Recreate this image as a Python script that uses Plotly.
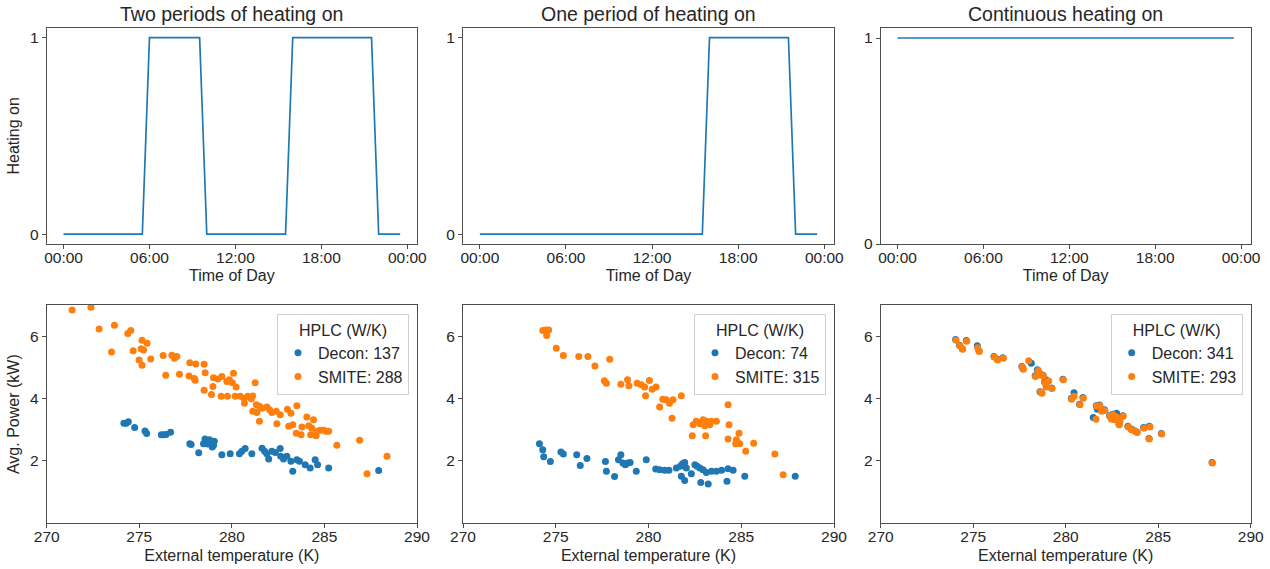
import plotly.graph_objects as go
import pandas as pd

# ---------------- data ----------------
time_of_day = pd.date_range("2020-01-01 00:00", periods=48, freq="30min")

heating_two_periods = [0, 0, 0, 0, 0, 0, 0, 0, 0, 0, 0, 0,
                       1, 1, 1, 1, 1, 1, 1, 1,
                       0, 0, 0, 0, 0, 0, 0, 0, 0, 0, 0, 0,
                       1, 1, 1, 1, 1, 1, 1, 1, 1, 1, 1, 1,
                       0, 0, 0, 0]
heating_one_period = [0, 0, 0, 0, 0, 0, 0, 0, 0, 0, 0, 0,
                      0, 0, 0, 0, 0, 0, 0, 0,
                      0, 0, 0, 0, 0, 0, 0, 0, 0, 0, 0, 0,
                      1, 1, 1, 1, 1, 1, 1, 1, 1, 1, 1, 1,
                      0, 0, 0, 0]
heating_continuous = [1, 1, 1, 1, 1, 1, 1, 1, 1, 1, 1, 1,
                      1, 1, 1, 1, 1, 1, 1, 1,
                      1, 1, 1, 1, 1, 1, 1, 1, 1, 1, 1, 1,
                      1, 1, 1, 1, 1, 1, 1, 1, 1, 1, 1, 1,
                      1, 1, 1, 1]

panel_titles = ["Two periods of heating on", "One period of heating on", "Continuous heating on"]
decon_hplc = [137, 74, 341]
smite_hplc = [288, 315, 293]

# Panel 1 (two periods)
p1_decon_temp = [274.17, 274.29, 274.41, 274.75, 275.31, 275.40, 276.19, 276.34, 276.45, 276.69,
                 277.73, 277.80, 278.21, 278.47, 278.55, 278.60, 278.69, 278.79, 278.86, 278.94,
                 279.01, 279.05, 279.46, 279.91, 280.41, 280.54, 280.72, 281.08, 281.63, 281.77,
                 281.89, 281.99, 282.16, 282.35, 282.61, 282.64, 282.79, 282.97, 283.19, 283.29,
                 283.51, 283.65, 283.96, 284.23, 284.50, 284.63, 285.23, 287.93]
p1_decon_power = [3.21, 3.21, 3.26, 3.07, 2.96, 2.88, 2.84, 2.84, 2.85, 2.92,
                  2.55, 2.53, 2.26, 2.55, 2.70, 2.62, 2.54, 2.68, 2.61, 2.45,
                  2.50, 2.63, 2.20, 2.23, 2.23, 2.31, 2.40, 2.23, 2.41, 2.31,
                  2.23, 2.06, 2.31, 2.27, 2.40, 2.15, 2.06, 2.15, 1.99, 1.67,
                  2.04, 1.99, 1.88, 1.77, 2.04, 1.88, 1.77, 1.69]
p1_smite_temp = [271.37, 272.39, 272.83, 273.66, 274.38, 274.54, 273.50, 274.67, 275.15, 275.42,
                 275.10, 275.23, 274.99, 275.15, 275.62, 276.29, 276.43, 276.76, 276.90, 277.03,
                 277.17, 277.73, 278.05, 278.50, 277.69, 277.97, 278.02, 278.56, 278.50, 278.90,
                 278.98, 279.01, 279.24, 279.46, 279.73, 279.87, 280.09, 280.03, 280.23, 279.42,
                 279.76, 280.18, 280.45, 280.66, 280.86, 281.05, 281.13, 281.26, 280.68, 281.32,
                 281.49, 281.63, 281.89, 282.04, 282.16, 282.40, 282.61, 281.13, 281.35, 281.49,
                 282.43, 283.00, 283.19, 283.51, 283.29, 283.07, 284.05, 283.79, 284.15, 284.32,
                 284.41, 284.59, 284.77, 284.95, 285.09, 285.23, 284.26, 284.55, 283.74, 285.67,
                 286.90, 287.30, 288.38, 283.48]
p1_smite_power = [6.84, 6.93, 6.23, 6.35, 6.09, 6.18, 5.49, 5.53, 5.87, 5.77,
                  5.60, 5.56, 5.24, 5.07, 5.27, 5.38, 4.75, 5.39, 5.29, 5.35,
                  4.78, 5.15, 5.11, 5.10, 4.72, 4.64, 4.59, 4.83, 4.27, 4.13,
                  4.39, 4.67, 4.63, 4.71, 4.55, 4.60, 4.81, 4.51, 4.37, 4.07,
                  4.07, 4.07, 4.07, 4.00, 4.07, 3.99, 4.08, 4.51, 3.85, 3.80,
                  3.75, 3.69, 3.73, 3.64, 3.55, 3.59, 3.48, 3.59, 3.55, 3.27,
                  3.19, 3.66, 3.53, 3.77, 3.16, 3.11, 3.41, 3.09, 3.13, 3.05,
                  3.32, 2.95, 2.98, 2.98, 2.95, 2.95, 2.84, 2.81, 2.84, 2.50,
                  2.66, 1.59, 2.15, 2.89]

# Panel 2 (one period)
p2_decon_temp = [274.12, 274.30, 274.35, 274.71, 275.28, 275.41, 276.13, 276.32, 276.68, 277.68,
                 277.73, 278.17, 278.38, 278.51, 278.62, 278.75, 278.89, 279.01, 279.34, 279.88,
                 280.39, 280.60, 280.87, 281.10, 281.50, 281.71, 281.83, 281.95, 282.04, 281.77,
                 281.95, 282.31, 282.50, 282.62, 282.77, 282.94, 283.12, 283.39, 283.66, 283.94,
                 284.29, 284.56, 282.82, 283.22, 284.23, 285.19, 287.91]
p2_decon_power = [2.55, 2.36, 2.13, 1.98, 2.29, 2.22, 2.20, 1.85, 2.08, 1.98,
                  1.67, 1.50, 2.04, 2.20, 1.93, 1.88, 1.93, 1.95, 1.67, 2.04,
                  1.74, 1.72, 1.70, 1.70, 1.77, 1.83, 1.91, 1.95, 1.77, 1.51,
                  1.37, 1.59, 1.88, 1.83, 1.77, 1.72, 1.63, 1.67, 1.67, 1.70,
                  1.75, 1.70, 1.31, 1.26, 1.35, 1.51, 1.51]
p2_smite_temp = [274.30, 274.47, 274.62, 274.51, 275.03, 275.41, 276.24, 276.73, 277.11, 277.91,
                 277.62, 277.73, 278.51, 278.87, 278.94, 279.39, 279.61, 279.79, 280.05, 280.20,
                 280.41, 279.84, 280.60, 280.77, 280.96, 281.13, 281.32, 281.77, 281.27, 282.41,
                 282.58, 282.77, 282.94, 283.12, 283.30, 283.39, 283.03, 283.66, 282.36, 283.08,
                 284.29, 284.34, 284.29, 284.74, 284.88, 284.70, 284.92, 285.24, 285.67, 286.81,
                 287.26]
p2_smite_power = [6.18, 6.20, 6.20, 6.02, 5.61, 5.38, 5.35, 5.35, 5.04, 5.26,
                  4.57, 4.49, 4.46, 4.60, 4.41, 4.49, 4.44, 4.37, 4.58, 4.30,
                  4.37, 4.09, 3.73, 3.98, 3.96, 3.85, 3.96, 4.09, 3.37, 3.16,
                  3.27, 3.19, 3.32, 3.27, 3.16, 3.27, 3.13, 3.27, 2.81, 2.81,
                  3.80, 3.16, 2.70, 2.68, 2.89, 2.55, 2.55, 2.31, 2.57, 2.22,
                  1.56]

# Panel 3 (continuous)
p3_decon_temp = [274.05, 274.26, 274.41, 274.63, 275.22, 275.31, 276.12, 276.30, 276.61, 277.63,
                 277.69, 278.14, 278.35, 278.47, 278.66, 278.77, 278.86, 278.95, 278.93, 278.61,
                 278.70, 279.24, 279.85, 280.30, 280.45, 280.75, 280.93, 281.65, 281.83, 281.49,
                 281.71, 282.10, 282.37, 282.55, 282.46, 282.64, 282.75, 282.91, 283.09, 282.88,
                 283.36, 283.54, 283.72, 283.85, 284.21, 284.52, 284.50, 285.17, 287.91]
p3_decon_power = [5.89, 5.71, 5.60, 5.86, 5.69, 5.53, 5.35, 5.26, 5.31, 5.03,
                  4.96, 5.13, 4.73, 4.92, 4.77, 4.75, 4.53, 4.39, 4.60, 4.22,
                  4.19, 4.34, 4.62, 4.00, 4.19, 3.82, 4.03, 3.77, 3.79, 3.39,
                  3.66, 3.64, 3.45, 3.50, 3.36, 3.34, 3.53, 3.29, 3.45, 3.18,
                  3.11, 3.02, 2.97, 2.93, 3.07, 3.11, 2.72, 2.88, 1.95]
p3_smite_temp = [274.07, 274.28, 274.43, 274.65, 275.24, 275.33, 276.14, 276.32, 276.63, 277.65,
                 277.71, 278.00, 278.37, 278.52, 278.68, 278.79, 278.88, 278.97, 279.08, 278.65,
                 278.72, 279.26, 279.87, 280.32, 280.45, 280.77, 280.95, 281.67, 281.85, 281.64,
                 281.94, 282.12, 282.39, 282.57, 282.48, 282.66, 282.75, 282.93, 283.11, 282.90,
                 283.38, 283.56, 283.74, 283.87, 284.23, 284.56, 284.52, 285.19, 287.93]
p3_smite_power = [5.87, 5.69, 5.58, 5.84, 5.63, 5.51, 5.33, 5.24, 5.29, 5.01,
                  4.94, 5.21, 4.71, 4.90, 4.75, 4.73, 4.51, 4.37, 4.56, 4.22,
                  4.17, 4.32, 4.60, 3.98, 4.07, 3.80, 4.01, 3.75, 3.77, 3.34,
                  3.59, 3.62, 3.43, 3.48, 3.34, 3.32, 3.41, 3.27, 3.43, 3.16,
                  3.09, 3.00, 2.95, 2.91, 3.05, 3.09, 2.70, 2.86, 1.93]

x_ticks_temp = [270, 275, 280, 285, 290]
y_ticks_power = [2, 4, 6]

# ---------------- figure ----------------
W, H = 1270, 569
FONT = "Liberation Sans, Arial, sans-serif"
TXT = "#262626"
BLUE = "#1f77b4"
ORANGE = "#ff7f0e"

cols_px = [(46.7, 417.0), (463.0, 834.0), (880.7, 1250.7)]
top_px = (27.7, 244.0)
bot_px = (305.0, 523.3)


def xdom(c):
    return [cols_px[c][0] / W, cols_px[c][1] / W]


def ydom(r):
    return [1 - r[1] / H, 1 - r[0] / H]


fig = go.Figure()

heat_series = [heating_two_periods, heating_one_period, heating_continuous]
for i, hs in enumerate(heat_series):
    fig.add_trace(go.Scatter(x=time_of_day, y=hs, mode="lines",
                             line=dict(color=BLUE, width=1.7),
                             xaxis=f"x{i+1}", yaxis=f"y{i+1}", showlegend=False))

scatter_sets = [
    (p1_decon_temp, p1_decon_power, p1_smite_temp, p1_smite_power),
    (p2_decon_temp, p2_decon_power, p2_smite_temp, p2_smite_power),
    (p3_decon_temp, p3_decon_power, p3_smite_temp, p3_smite_power),
]
legend_names = ["legend", "legend2", "legend3"]
for i, (dt, dp, st, sp) in enumerate(scatter_sets):
    ax = i + 4
    fig.add_trace(go.Scatter(x=dt, y=dp, mode="markers",
                             marker=dict(color=BLUE, size=7, line=dict(width=0)),
                             name=f"Decon: {decon_hplc[i]}", legend=legend_names[i],
                             xaxis=f"x{ax}", yaxis=f"y{ax}"))
    fig.add_trace(go.Scatter(x=st, y=sp, mode="markers",
                             marker=dict(color=ORANGE, size=7, line=dict(width=0)),
                             name=f"SMITE: {smite_hplc[i]}", legend=legend_names[i],
                             xaxis=f"x{ax}", yaxis=f"y{ax}"))

common = dict(showline=True, linecolor="#4d4d4d", linewidth=1, mirror=True,
              ticks="outside", ticklen=4, tickwidth=1, tickcolor="#4d4d4d",
              tickfont=dict(family=FONT, size=15.5, color=TXT),
              showgrid=False, zeroline=False, automargin=False)

layout = dict(width=W, height=H, margin=dict(l=0, r=0, t=0, b=0, autoexpand=False),
              paper_bgcolor="white", plot_bgcolor="white",
              font=dict(family=FONT, color=TXT), hovermode=False)

for i in range(3):
    n = i + 1
    layout[f"xaxis{n}"] = dict(common, domain=xdom(i), anchor=f"y{n}", type="date",
                               range=["2019-12-31 22:49:30", "2020-01-02 00:40:30"],
                               tickformat="%H:%M", dtick=6 * 3600 * 1000,
                               tick0="2020-01-01 00:00", ticklabelstandoff=-5,
                               title=dict(text="Time of Day", font=dict(size=16, color=TXT),
                                          standoff=5))
    yr = [-0.05, 1.05] if i < 2 else [0, 1.05]
    layout[f"yaxis{n}"] = dict(common, domain=ydom(top_px), anchor=f"x{n}",
                               range=yr, tickvals=[0, 1])
    m = i + 4
    layout[f"xaxis{m}"] = dict(common, domain=xdom(i), anchor=f"y{m}",
                               range=[270, 290], tickvals=x_ticks_temp, ticklabelstandoff=-5,
                               title=dict(text="External temperature (K)",
                                          font=dict(size=16, color=TXT), standoff=5))
    layout[f"yaxis{m}"] = dict(common, domain=ydom(bot_px), anchor=f"x{m}",
                               range=[0, 7], tickvals=y_ticks_power)
    leg = dict(title=dict(text="HPLC (W/K)", side="top center",
                          font=dict(family=FONT, size=16, color=TXT)),
               font=dict(family=FONT, size=16, color=TXT),
               x=(cols_px[i][1] - 8) / W, y=1 - (bot_px[0] + 9) / H,
               xanchor="right", yanchor="top",
               bordercolor="#d0d0d0", borderwidth=1,
               bgcolor="rgba(255,255,255,0.85)", itemwidth=30, tracegroupgap=0)
    layout[legend_names[i]] = leg

layout["yaxis1"]["title"] = dict(text="Heating on", font=dict(size=16, color=TXT), standoff=6)
layout["yaxis4"]["title"] = dict(text="Avg. Power (kW)", font=dict(size=16, color=TXT), standoff=6)

annotations = []
for i in range(3):
    annotations.append(dict(text=panel_titles[i], xref="paper", yref="paper",
                            x=(xdom(i)[0] + xdom(i)[1]) / 2, y=ydom(top_px)[1],
                            xanchor="center", yanchor="bottom", yshift=1,
                            showarrow=False, font=dict(family=FONT, size=19.5, color=TXT)))
layout["annotations"] = annotations

fig.update_layout(**layout)
fig.write_html("out.html", config={"displayModeBar": False},
               post_script="document.body.style.margin='0px';document.body.style.overflow='hidden';")
